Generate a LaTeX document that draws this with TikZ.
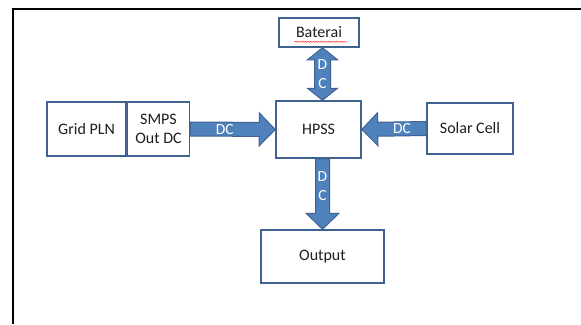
\documentclass[tikz,border=0pt]{standalone}
\usepackage{fontspec}
\setmainfont{Carlito}
\usetikzlibrary{calc,positioning,decorations.pathmorphing}
\definecolor{boxline}{RGB}{64,98,145}
\definecolor{arrowfill}{RGB}{79,129,189}
\definecolor{textgray}{RGB}{30,30,30}

\begin{document}
\begin{tikzpicture}[x=1pt,y=-1pt,font=\fontsize{16}{19.5}\selectfont]
    \tikzstyle{block}=[draw=boxline,line width=1.5pt,fill=white,text=textgray,inner sep=0pt,align=center]
    \tikzstyle{dc}=[text=white,font=\fontsize{15.5}{19}\selectfont,align=center,inner sep=0pt]
    \tikzstyle{power arrow}=[draw=boxline,fill=arrowfill,line width=1pt,line join=miter,
      to path={let \p1=(\tikztostart), \p2=(\tikztotarget),
        \p3=($(\p2)!16pt!(\p1)$) in
        ($(\p1)!7pt!90:(\p2)$) -- ($(\p3)!7pt!90:(\p2)$) -- ($(\p3)!16.5pt!90:(\p2)$)
        -- (\p2) -- ($(\p3)!16.5pt!-90:(\p2)$) -- ($(\p3)!7pt!-90:(\p2)$)
        -- ($(\p1)!7pt!-90:(\p2)$) -- cycle
        ($(\p1)!0.5!(\p3)$) -- ($(\p1)!0.5!(\p3)$) \tikztonodes}]
    \tikzstyle{double power arrow}=[draw=boxline,fill=arrowfill,line width=1pt,line join=miter,
      to path={let \p1=(\tikztostart), \p2=(\tikztotarget),
        \p3=($(\p2)!12pt!(\p1)$), \p4=($(\p1)!12pt!(\p2)$) in
        (\p1) -- ($(\p4)!15pt!90:(\p2)$) -- ($(\p4)!8pt!90:(\p2)$) -- ($(\p3)!8pt!90:(\p2)$)
        -- ($(\p3)!15pt!90:(\p2)$) -- (\p2) -- ($(\p3)!15pt!-90:(\p2)$) -- ($(\p3)!8pt!-90:(\p2)$)
        -- ($(\p4)!8pt!-90:(\p2)$) -- ($(\p4)!15pt!-90:(\p2)$) -- cycle
        ($(\p1)!0.5!(\p2)$) -- ($(\p1)!0.5!(\p2)$) \tikztonodes}]

    \useasboundingbox (0,0) rectangle (581,324);

    % Frame round the figure
    \draw[line width=2.5pt] (13,324) -- (13,9) -- (581,9);

    % Draw the blocks
    \node[block,minimum width=80pt,minimum height=29pt] (baterai) at (319,32.5) {Baterai};
    \node[block,minimum width=85pt,minimum height=57pt] (hpss) at (318.5,129.5) {HPSS};
    \node[block,minimum width=79pt,minimum height=54pt] (grid) at (86.5,129) {Grid PLN};
    \node[block,minimum width=62pt,minimum height=54pt,right=0pt of grid] (smps) {SMPS\\Out DC};
    \node[block,minimum width=86pt,minimum height=51pt] (solar) at (470,128.5) {Solar Cell};
    \node[block,minimum width=123pt,minimum height=53pt] (output) at (322.5,256.5) {Output};

    % Spelling mark under Baterai
    \draw[red!80,line width=0.5pt,decorate,decoration={snake,amplitude=0.6pt,segment length=2.6pt}]
      ($(baterai.south west)+(16,-6)$) -- ($(baterai.south east)+(-12,-6)$);

    % Connect the blocks
    \draw[power arrow] (smps.east) to node[dc] {DC} (hpss.west);
    \draw[power arrow] (solar.west) to node[dc] {DC} (hpss.east);
    \draw[power arrow] (hpss.south -| output.north) to node[dc] {D\\C} (output.north);
    \draw[double power arrow] (baterai.south -| output.north) to node[dc] {D\\C} (hpss.north -| output.north);
\end{tikzpicture}
\end{document}
